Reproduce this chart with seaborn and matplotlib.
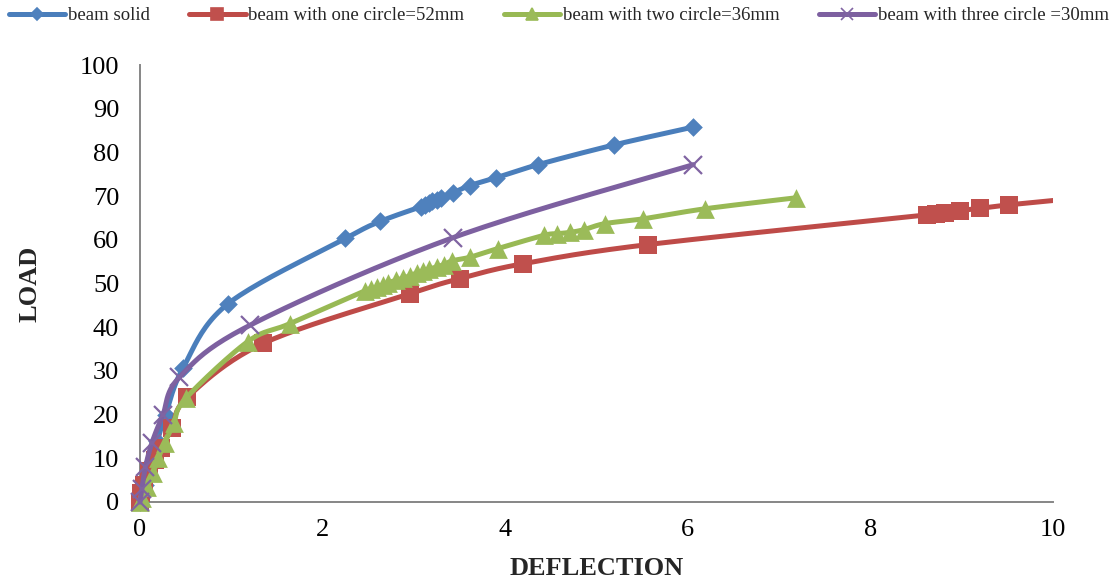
import numpy as np
import matplotlib
matplotlib.use("Agg")
import matplotlib.pyplot as plt
from matplotlib.lines import Line2D
from matplotlib.patches import Rectangle
import seaborn as sns

# ---- data ----
labels = ["beam solid", "beam with one circle=52mm",
          "beam with two circle=36mm", "beam with three circle =30mm"]

solid_x = [0, 0.05, 0.12, 0.19, 0.28, 0.47, 0.96, 2.25, 2.63, 3.08, 3.12, 3.16,
           3.2, 3.25, 3.3, 3.43, 3.61, 3.9, 4.36, 5.19, 6.06]
solid_y = [0, 4, 9, 14, 20, 30.6, 45.3, 60.3, 64.2, 67.6, 68.0, 68.4,
           68.8, 69.2, 69.6, 70.8, 72.4, 74.2, 77.2, 81.7, 85.8]

one_x = [0, 0.01, 0.04, 0.1, 0.16, 0.23, 0.35, 0.52, 1.35, 2.96, 3.5, 4.19,
         5.56, 8.62, 8.72, 8.82, 8.98, 9.2, 9.52, 10.3]
one_y = [0, 2, 4, 7, 9.5, 12.3, 17, 24, 36.3, 47.7, 51.1, 54.5,
         58.9, 65.7, 65.9, 66.2, 66.7, 67.2, 68.0, 69.6]

two_x = [0, 0.02, 0.08, 0.14, 0.2, 0.27, 0.37, 0.5, 1.18, 1.64, 2.46, 2.53, 2.6,
         2.66, 2.72, 2.8, 2.88, 2.96, 3.03, 3.1, 3.17, 3.25, 3.33, 3.42, 3.61,
         3.92, 4.42, 4.57, 4.71, 4.86, 5.09, 5.51, 6.19, 7.18]
two_y = [0, 1, 3.4, 6.6, 10, 13.5, 18, 23.7, 36.7, 40.8, 48.3, 48.8, 49.2,
         49.7, 50.2, 50.7, 51.2, 51.8, 52.4, 52.8, 53.3, 53.8, 54.3, 55.2, 56.0,
         58.0, 61.0, 61.4, 61.7, 62.3, 63.7, 64.8, 67.1, 69.6]

three_x = [0, 0.02, 0.06, 0.13, 0.25, 0.43, 1.2, 3.43, 6.06]
three_y = [0, 3, 8, 13.5, 19.9, 28.5, 40.4, 60.5, 77.2]

x_ticks = [0, 2, 4, 6, 8, 10]
y_ticks = [0, 10, 20, 30, 40, 50, 60, 70, 80, 90, 100]

line_colors = ["#4A7EBB", "#BE4B48", "#98B954", "#7D60A0"]
mark_colors = ["#4F81BD", "#C0504D", "#9BBB59", "#8064A2"]
markers = ["D", "s", "^", "x"]
msizes = [9.5, 13.5, 13.5, 13]


def smooth(x, y, n=24):
    """Excel-style smoothed line (Catmull-Rom Bezier through the points)."""
    p = np.column_stack([x, y]).astype(float)
    out = [p[0]]
    t = np.linspace(0, 1, n)[1:, None]
    for i in range(len(p) - 1):
        p0 = p[max(i - 1, 0)]
        p1 = p[i]
        p2 = p[i + 1]
        p3 = p[min(i + 2, len(p) - 1)]
        c1 = p1 + (p2 - p0) / 6.0
        c2 = p2 - (p3 - p1) / 6.0
        seg = ((1 - t) ** 3) * p1 + 3 * ((1 - t) ** 2) * t * c1 \
            + 3 * (1 - t) * t ** 2 * c2 + t ** 3 * p2
        out.extend(seg)
    out = np.array(out)
    return out[:, 0], out[:, 1]


sns.set_theme(style="white")
plt.rcParams["font.family"] = ["Liberation Serif", "DejaVu Serif"]

fig = plt.figure(figsize=(11.15, 5.83), dpi=100)
ax = fig.add_axes([140 / 1115, 1 - 502 / 583, 913 / 1115, 437 / 583])

# plot area clip: open to the left/bottom/top, closed at the right edge
clip_rect = Rectangle((-0.2, -0.2), 1.2, 1.5, transform=ax.transAxes,
                      facecolor="none", edgecolor="none")

series = [(solid_x, solid_y), (one_x, one_y), (two_x, two_y), (three_x, three_y)]
for i, (xs, ys) in enumerate(series):
    sx, sy = smooth(xs, ys)
    n_before = len(ax.lines)
    sns.lineplot(x=sx, y=sy, sort=False, estimator=None, color=line_colors[i],
                 linewidth=3.6, ax=ax, zorder=2 + 2 * i, legend=False)
    for ln in ax.lines[n_before:]:
        ln.set_solid_capstyle("round")
        ln.set_clip_path(clip_rect)
    if markers[i] == "x":
        mk = ax.plot(xs, ys, linestyle="none", marker="x", markersize=msizes[i],
                     markeredgewidth=1.6, color=mark_colors[i], zorder=3 + 2 * i)
        for m in mk:
            m.set_clip_path(clip_rect)
    else:
        n_col = len(ax.collections)
        sns.scatterplot(x=xs, y=ys, marker=markers[i], s=msizes[i] ** 2,
                        color=mark_colors[i], linewidth=0, ax=ax,
                        zorder=3 + 2 * i, legend=False)
        for c in ax.collections[n_col:]:
            c.set_clip_path(clip_rect)

ax.set_xlim(0, 10)
ax.set_ylim(0, 100)
ax.set_xticks(x_ticks)
ax.set_yticks(y_ticks)
ax.set_xticklabels([str(v) for v in x_ticks])
ax.set_yticklabels([str(v) for v in y_ticks])
ax.tick_params(axis="both", length=0, labelsize=19, colors="black")
ax.tick_params(axis="y", pad=15)
ax.tick_params(axis="x", pad=12)

for s in ["top", "right"]:
    ax.spines[s].set_visible(False)
for s in ["left", "bottom"]:
    ax.spines[s].set_color("#868686")
    ax.spines[s].set_linewidth(1.4)
    ax.spines[s].set_zorder(1)

ax.set_xlabel("DEFLECTION", fontsize=19, fontweight="bold")
ax.set_ylabel("LOAD", fontsize=19, fontweight="bold")
ax.xaxis.set_label_coords(0.5, -0.125)
ax.yaxis.set_label_coords(-0.108, 0.5)

handles = [Line2D([], [], color=line_colors[i], linewidth=3.6, marker=markers[i],
                  markersize=[6, 8, 8, 8][i], markerfacecolor=mark_colors[i],
                  markeredgecolor=mark_colors[i], markeredgewidth=1.2)
           for i in range(4)]
fig.legend(handles, labels, loc="upper left", bbox_to_anchor=(0.003, 0.997),
           ncol=4, frameon=False, fontsize=13.5, handlelength=3.0,
           handletextpad=0.15, columnspacing=2.1, borderpad=0.3,
           borderaxespad=0)

fig.savefig("out.png", dpi=100)
